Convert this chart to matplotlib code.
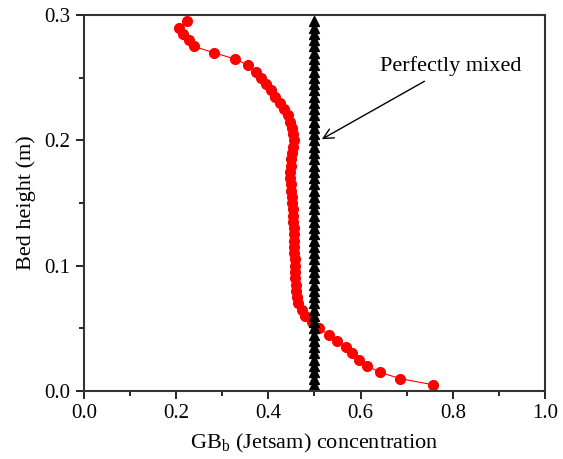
import numpy as np
import matplotlib
matplotlib.use("Agg")
import matplotlib.pyplot as plt
from matplotlib.ticker import MultipleLocator

plt.rcParams['font.family'] = ['Liberation Serif', 'DejaVu Serif']
plt.rcParams['mathtext.fontset'] = 'custom'
plt.rcParams['mathtext.rm'] = 'Liberation Serif'

# bed height (m) of each sampled layer
height = [0.005, 0.010, 0.015, 0.020, 0.025, 0.030, 0.035, 0.040, 0.045, 0.050,
          0.055, 0.060, 0.065, 0.070, 0.075, 0.080, 0.085, 0.090, 0.095, 0.100,
          0.105, 0.110, 0.115, 0.120, 0.125, 0.130, 0.135, 0.140, 0.145, 0.150,
          0.155, 0.160, 0.165, 0.170, 0.175, 0.180, 0.185, 0.190, 0.195, 0.200,
          0.205, 0.210, 0.215, 0.220, 0.225, 0.230, 0.235, 0.240, 0.245, 0.250,
          0.255, 0.260, 0.265, 0.270, 0.275, 0.280, 0.285, 0.290, 0.295]
# jetsam concentration
jetsam = [0.757, 0.685, 0.642, 0.615, 0.597, 0.581, 0.568, 0.550, 0.531, 0.510,
          0.494, 0.479, 0.472, 0.465, 0.462, 0.461, 0.459, 0.458, 0.458, 0.457,
          0.457, 0.456, 0.456, 0.456, 0.455, 0.455, 0.454, 0.454, 0.453, 0.452,
          0.451, 0.450, 0.449, 0.448, 0.448, 0.449, 0.450, 0.452, 0.454, 0.455,
          0.454, 0.452, 0.448, 0.443, 0.434, 0.425, 0.415, 0.405, 0.395, 0.384,
          0.373, 0.356, 0.328, 0.282, 0.239, 0.228, 0.215, 0.206, 0.223]
mixed = [0.5] * len(height)

fig = plt.figure(figsize=(5.63, 4.59), dpi=100)
ax = fig.add_axes([0.149, 0.148, 0.819, 0.819])

ax.plot(jetsam, height, color='red', lw=0.8, marker='o', ms=7,
        mfc='red', mec='red')
ax.plot(mixed, height, color='black', lw=0, marker='^', ms=7,
        mfc='black', mec='black')

ax.annotate('Perfectly mixed', xy=(0.516, 0.201), xytext=(0.642, 0.259),
            fontsize=16, va='center', ha='left',
            arrowprops=dict(arrowstyle='->', color='black', lw=1,
                            mutation_scale=18, shrinkA=3, shrinkB=0))

ax.set_xlim(0, 1.0)
ax.set_ylim(0, 0.3)
ax.xaxis.set_major_locator(MultipleLocator(0.2))
ax.xaxis.set_minor_locator(MultipleLocator(0.1))
ax.yaxis.set_major_locator(MultipleLocator(0.1))
ax.yaxis.set_minor_locator(MultipleLocator(0.05))
ax.tick_params(which='both', direction='out', top=False, right=False,
               labelsize=15, width=1.2)
ax.tick_params(which='major', length=6)
ax.tick_params(which='minor', length=3.5)
for s in ax.spines.values():
    s.set_linewidth(1.5)
    s.set_color('#333333')

ax.set_xlabel('GB$_\\mathrm{b}$ (Jetsam) concentration', fontsize=16, labelpad=6)
ax.set_ylabel('Bed height (m)', fontsize=16, labelpad=6)

fig.savefig('out.png', dpi=100)
